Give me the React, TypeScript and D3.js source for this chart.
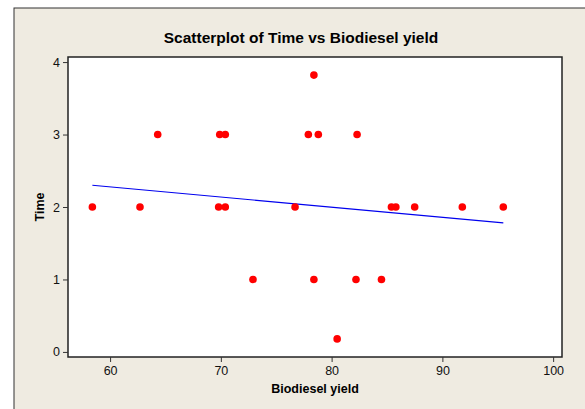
import React, { useEffect, useRef } from 'react';
import * as d3 from 'd3';

const yieldValues = [58.4, 62.7, 64.3, 69.9, 70.4, 69.8, 70.4, 72.9, 76.7, 77.9, 78.4, 78.4, 78.8, 82.3, 85.4, 85.8, 87.5, 91.8, 95.5, 82.2, 84.5, 80.5];
const timeValues = [2, 2, 3, 3, 3, 2, 2, 1, 2, 3, 3.82, 1, 3, 3, 2, 2, 2, 2, 2, 1, 1, 0.18];
// fitted line ends
const fitX = [58.4, 95.5];
const fitY = [2.3, 1.78];
const xTicks = [60, 70, 80, 90, 100];
const yTicks = [0, 1, 2, 3, 4];

const W = 585;
const H = 409;

const App: React.FC = () => {
  const svgRef = useRef<SVGSVGElement>(null);

  useEffect(() => {
    if (!svgRef.current) return;
    const svg = d3.select(svgRef.current);
    svg.selectAll('*').remove();

    const left = 68, right = 562, top = 57, bottom = 357;
    const font = "'Liberation Sans', Arial, sans-serif";

    // outer frame
    svg.append('rect').attr('x', 14).attr('y', 8).attr('width', W).attr('height', H)
      .attr('fill', '#efebe1').attr('stroke', '#333').attr('stroke-width', 1);

    const x = d3.scaleLinear().domain([56.2, 100.8]).range([left, right]);
    const y = d3.scaleLinear().domain([-0.07, 4.07]).range([bottom, top]);

    svg.append('rect').attr('x', left).attr('y', top).attr('width', right - left).attr('height', bottom - top)
      .attr('fill', '#fff').attr('stroke', '#222').attr('stroke-width', 1.5);

    const xAxis = svg.append('g').attr('transform', `translate(0,${bottom})`)
      .call(d3.axisBottom(x).tickValues(xTicks).tickSize(5).tickPadding(4).tickFormat(d3.format('d')));
    xAxis.select('.domain').remove();
    const yAxis = svg.append('g').attr('transform', `translate(${left},0)`)
      .call(d3.axisLeft(y).tickValues(yTicks).tickSize(5).tickPadding(3).tickFormat(d3.format('d')));
    yAxis.select('.domain').remove();
    svg.selectAll('.tick text').attr('font-family', font).attr('font-size', 12.5).attr('fill', '#111');
    svg.selectAll('.tick line').attr('stroke', '#333');

    svg.append('line')
      .attr('x1', x(fitX[0])).attr('y1', y(fitY[0]))
      .attr('x2', x(fitX[1])).attr('y2', y(fitY[1]))
      .attr('stroke', '#0000ee').attr('stroke-width', 1.2);

    svg.append('g').selectAll('circle')
      .data(yieldValues.map((v, i) => [v, timeValues[i]]))
      .enter().append('circle')
      .attr('cx', d => x(d[0])).attr('cy', d => y(d[1])).attr('r', 3.8)
      .attr('fill', '#ff0000');

    svg.append('text').attr('x', 301).attr('y', 43).attr('text-anchor', 'middle')
      .attr('font-family', font).attr('font-weight', 'bold').attr('font-size', 15.5)
      .text('Scatterplot of Time vs Biodiesel yield');

    svg.append('text').attr('x', (left + right) / 2).attr('y', 393).attr('text-anchor', 'middle')
      .attr('font-family', font).attr('font-weight', 'bold').attr('font-size', 12.5)
      .text('Biodiesel yield');

    svg.append('text').attr('transform', `translate(44,${(top + bottom) / 2}) rotate(-90)`)
      .attr('text-anchor', 'middle')
      .attr('font-family', font).attr('font-weight', 'bold').attr('font-size', 12.5)
      .text('Time');
  }, []);

  return (
    <svg ref={svgRef} width={W} height={H}
      style={{ position: 'absolute', left: 0, top: 0, background: '#fff' }} />
  );
};

export default App;
